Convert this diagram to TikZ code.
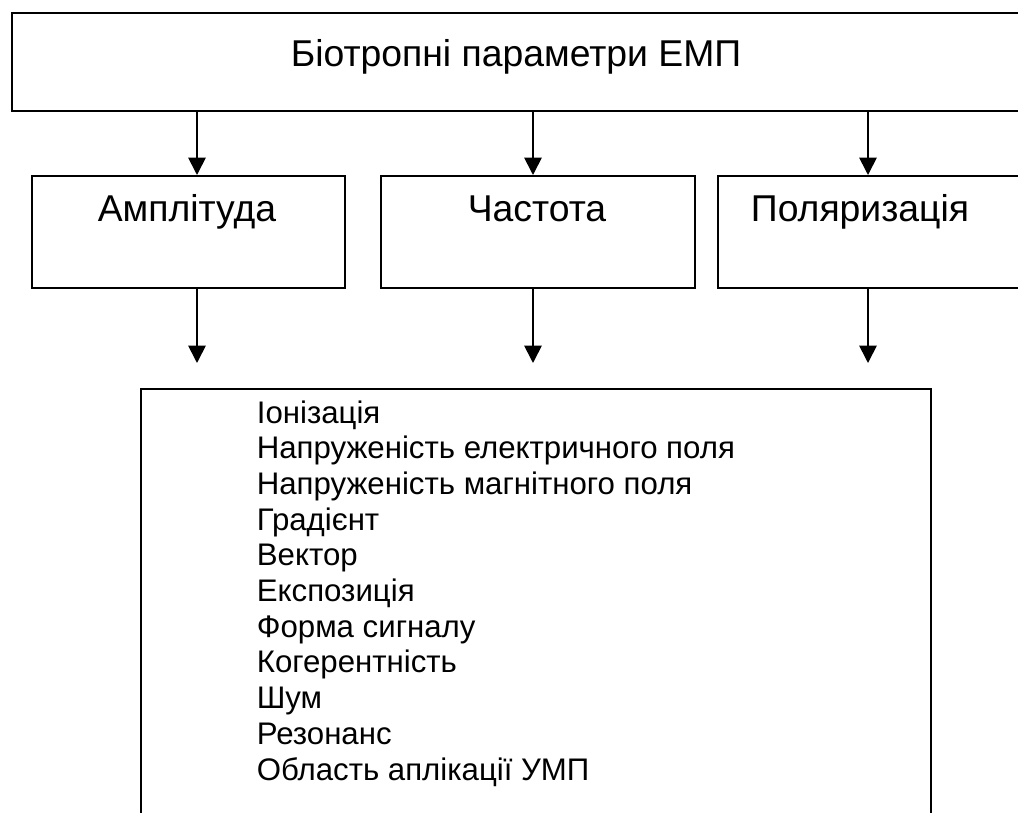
\documentclass[tikz,border=0pt]{standalone}
\usepackage{fontspec}
\setmainfont{Liberation Sans}
\usetikzlibrary{arrows.meta}
\begin{document}
\begin{tikzpicture}[x=0.75pt, y=-0.75pt, line width=1.3pt,
        box/.style={draw, rectangle, inner sep=0pt, anchor=north west},
        lbl/.style={anchor=base, inner sep=0pt, font=\fontsize{28}{33}\selectfont},
        item/.style={anchor=base west, inner sep=0pt, font=\fontsize{23.4}{27}\selectfont},
        arr/.style={-{Triangle[width=13pt, length=13pt]}}]
    \def\gap{35.7}
    \def\tipy{363}
    \useasboundingbox (0,0) rectangle (1018,813);

    \node[box, minimum width=757.5pt, minimum height=73.5pt] (top) at (11,12) {};
    \node[lbl] (toptext) at (516,67) {Біотропні параметри ЕМП};

    \node[box, minimum width=234.75pt, minimum height=84pt] (amp) at (31,175) {};
    \node[box, minimum width=235.5pt, minimum height=84pt] (freq) at (380,175) {};
    \node[box, minimum width=234.75pt, minimum height=84pt] (pol) at (717,175) {};
    \node[lbl] (amptext) at (187,222) {Амплітуда};
    \node[lbl] (freqtext) at (537,222) {Частота};
    \node[lbl] (poltext) at (860,222) {Поляризація};

    \coordinate (c1) at (197,\tipy);
    \coordinate (c2) at (533,\tipy);
    \coordinate (c3) at (868,\tipy);
    \draw[arr] (top.south -| c1) -- (amp.north -| c1);
    \draw[arr] (top.south -| c2) -- (freq.north -| c2);
    \draw[arr] (top.south -| c3) -- (pol.north -| c3);
    \draw[arr] (amp.south -| c1) -- (c1);
    \draw[arr] (freq.south -| c2) -- (c2);
    \draw[arr] (pol.south -| c3) -- (c3);

    \node[box, minimum width=592.5pt, minimum height=345pt] (list) at (140,388) {};
    \foreach \t [count=\i from 0] in {Іонізація, Напруженість електричного поля,
            Напруженість магнітного поля, Градієнт, Вектор, Експозиція,
            Форма сигналу, Когерентність, Шум, Резонанс, Область аплікації УМП}
        \node[item] (it\i) at (256,423+\gap*\i) {\t};
\end{tikzpicture}
\end{document}
